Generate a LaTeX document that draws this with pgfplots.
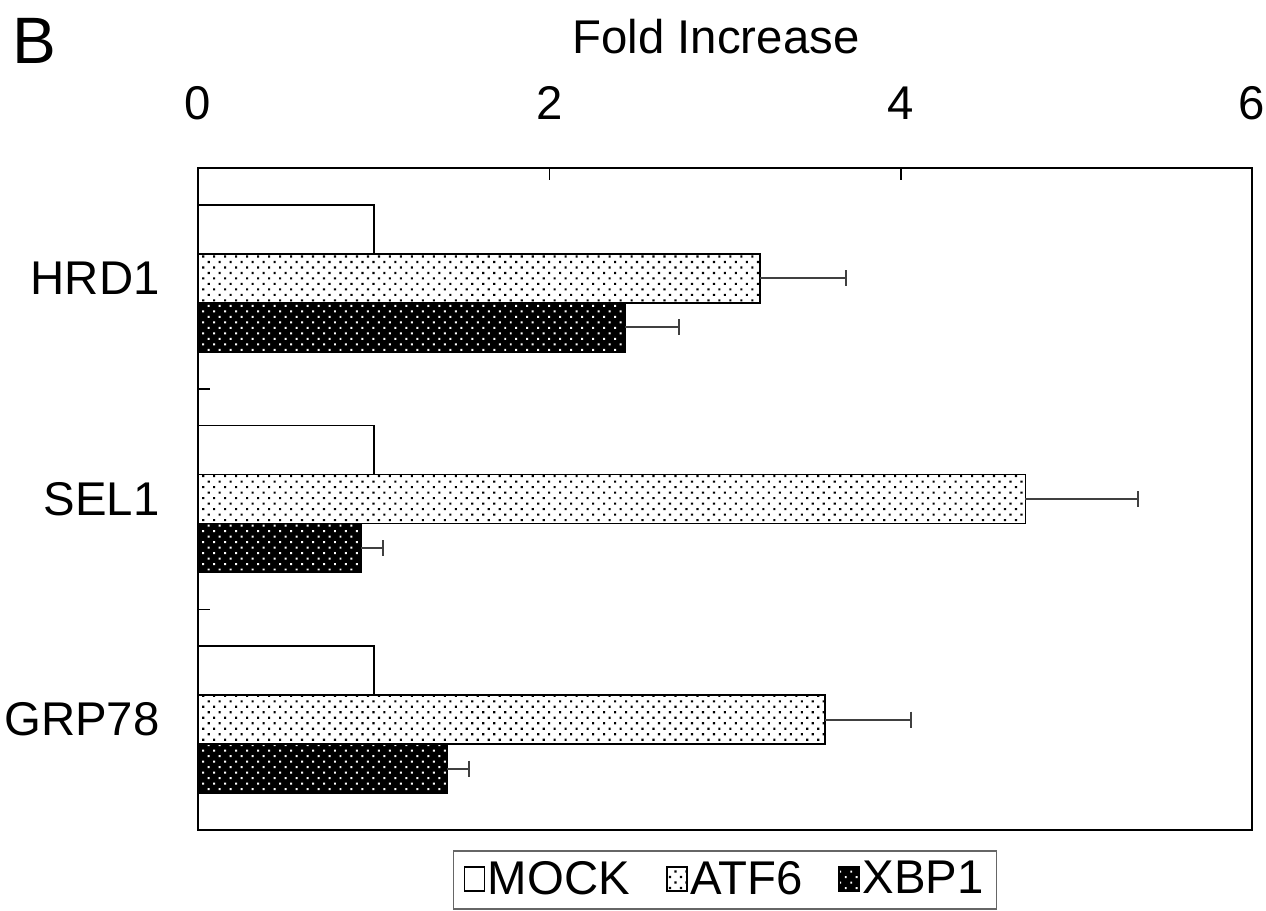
\documentclass[border=0pt]{standalone}
\usepackage{fontspec}
\setmainfont{Liberation Sans}
\usepackage{pgfplots}
\pgfplotsset{compat=1.18}
\usetikzlibrary{patterns.meta}
\newcommand\fs{\fontsize{14.2pt}{17pt}\selectfont}
\tikzset{
  atfpat/.style={fill=white, postaction={pattern={Dots[distance=2.33pt, angle=45, radius=0.45pt]}, pattern color=black}},
  xbppat/.style={fill=black, postaction={pattern={Dots[distance=2.33pt, angle=45, radius=0.42pt]}, pattern color=white}},
}
\begin{document}
\begin{tikzpicture}
\useasboundingbox (-59.4pt,-24pt) rectangle (320.4pt,249pt);
\begin{axis}[
  at={(0,0)}, anchor=south west,
  scale only axis,
  width=316.2pt, height=198.6pt,
  xbar,
  xmin=0, xmax=6,
  ymin=-0.5, ymax=2.5,
  axis line style={line width=0.5pt},
  xtick={0,2,4,6},
  xticklabel pos=top,
  xtick pos=top,
  xtick align=inside,
  major tick length=3.6pt,
  /pgf/number format/assume math mode=true,
  xticklabel style={font=\fs, yshift=11pt},
  ytick={0.5,1.5},
  yticklabels={},
  ytick pos=left,
  ytick align=inside,
  extra y ticks={0,1,2},
  extra y tick labels={GRP78,SEL1,HRD1},
  extra y tick style={major tick length=0pt, yticklabel style={font=\fs, xshift=-8pt}},
  tick style={line width=0.5pt, black},
  bar width=14.7pt,
  title={Fold Increase},
  title style={font=\fs, at={(0.4915,1)}, anchor=base, yshift=28.5pt},
  legend columns=3,
  area legend,
  legend image code/.code={\draw[#1, line width=0.5pt] (0pt,-3.4pt) rectangle (6pt,3.8pt);},
  legend style={at={(0.5,-0.0755)}, anchor=center, draw=black!60, line width=0.4pt,
    font=\fs, inner xsep=3pt, inner ysep=1pt,
    /tikz/every even column/.append style={column sep=10pt},
    nodes={inner xsep=0.8pt}},
  error bars/error bar style={line width=0.6pt, black!75},
  error bars/error mark=|,
  error bars/error mark options={line width=0.6pt, black!75, mark size=2.4pt},
]
\addplot[draw=black, line width=0.5pt, fill=white, bar shift=14.7pt]
  coordinates {(1.0,0) (1.0,1) (1.0,2)};
\addplot[draw=black, line width=0.5pt, atfpat, bar shift=0pt,
  error bars/.cd, x dir=plus, x explicit]
  coordinates {(3.57,0) +- (0.49,0) (4.71,1) +- (0.64,0) (3.20,2) +- (0.49,0)};
\addplot[draw=black, line width=0.5pt, xbppat, bar shift=-14.7pt,
  error bars/.cd, x dir=plus, x explicit]
  coordinates {(1.42,0) +- (0.125,0) (0.93,1) +- (0.125,0) (2.43,2) +- (0.31,0)};
\legend{MOCK,ATF6,XBP1}
\end{axis}
\node[anchor=base west, font=\fontsize{19.7pt}{23pt}\selectfont, inner sep=0pt] at (-55.8pt,229.8pt) {B};
\end{tikzpicture}
\end{document}
